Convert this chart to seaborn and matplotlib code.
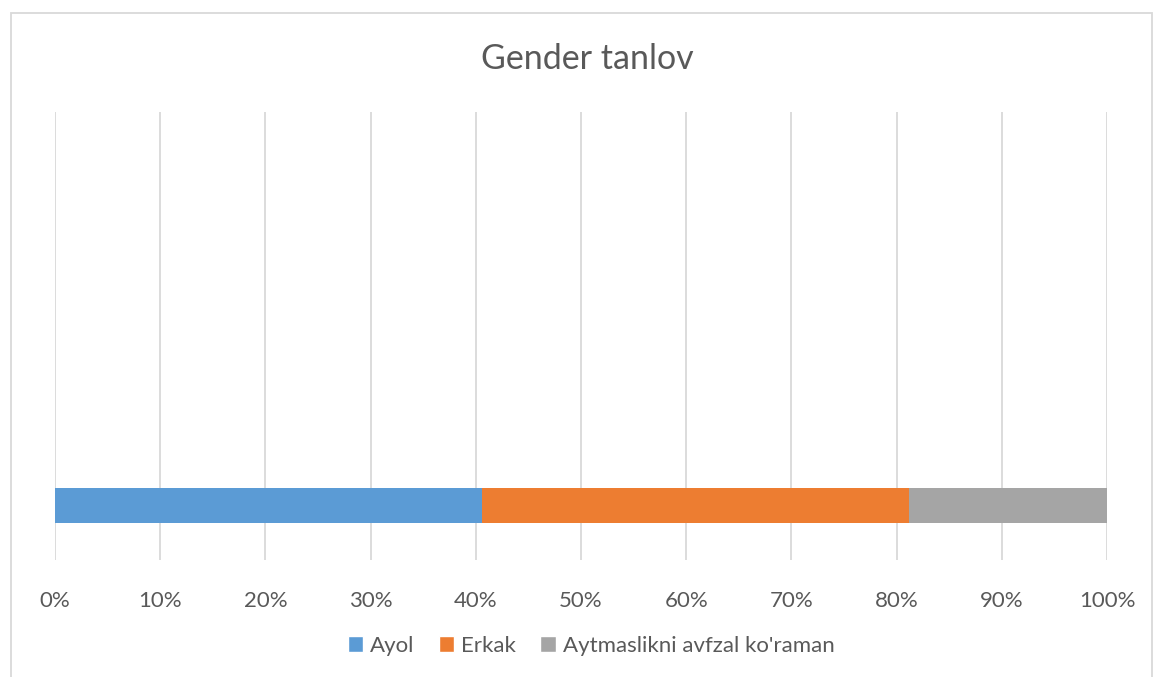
import matplotlib
matplotlib.use("Agg")
import matplotlib.pyplot as plt
from matplotlib.patches import Rectangle, Patch
import seaborn as sns
import pandas as pd

# survey answers (share of respondents, %)
categories = ["Ayol", "Erkak", "Aytmaslikni avfzal ko'raman"]
shares = [40.57, 40.57, 18.86]
colors = ["#5B9BD5", "#ED7D31", "#A5A5A5"]
tick_values = [0, 10, 20, 30, 40, 50, 60, 70, 80, 90, 100]
title = "Gender tanlov"

sns.set_style("white")
plt.rcParams['font.family'] = ['Lato', 'DejaVu Sans']

fig = plt.figure(figsize=(11.53, 6.77), dpi=100)
ax = fig.add_axes([0.0477, 0.1728, 0.9124, 0.6617])

# stacked bar: draw cumulative totals, largest first
cum = []
total = 0
for s in shares:
    total += s
    cum.append(total)
df = pd.DataFrame({"name": categories, "cum": cum, "row": ["g"] * 3})

for i in reversed(range(len(categories))):
    sns.barplot(data=df.iloc[[i]], x="cum", y="row", color=colors[i],
                width=0.5, saturation=1, ax=ax, zorder=3, orient="h",
                linewidth=0)

ax.set_xlim(0, 100)
ax.set_ylim(-0.78, 5.62)
ax.set_xticks(tick_values)
ax.set_xticklabels([f"{v}%" for v in tick_values], fontsize=16, color="#595959")
ax.set_yticks([])
ax.set_xlabel("")
ax.set_ylabel("")
ax.tick_params(axis="x", length=0, pad=22)
ax.grid(axis="x", color="#D9D9D9", linewidth=1.3, zorder=0)
for sp in ax.spines.values():
    sp.set_visible(False)

fig.text(587 / 1153, 1 - 59 / 677, title, ha="center", va="center",
         fontsize=24.5, color="#595959")

handles = [Patch(facecolor=c, label=n) for c, n in zip(colors, categories)]
fig.legend(handles=handles, loc="center", bbox_to_anchor=(591 / 1153, 1 - 646 / 677),
           ncol=3, frameon=False, fontsize=16, handlelength=0.7, handleheight=0.7,
           handletextpad=0.3, columnspacing=1.1, labelcolor="#595959")

fig.patches.append(Rectangle((11 / 1153, -0.01), 1141 / 1153, 1 - 13 / 677 + 0.01,
                             transform=fig.transFigure, fill=False,
                             edgecolor="#D9D9D9", linewidth=1.3))

fig.savefig("out.png", dpi=100)
